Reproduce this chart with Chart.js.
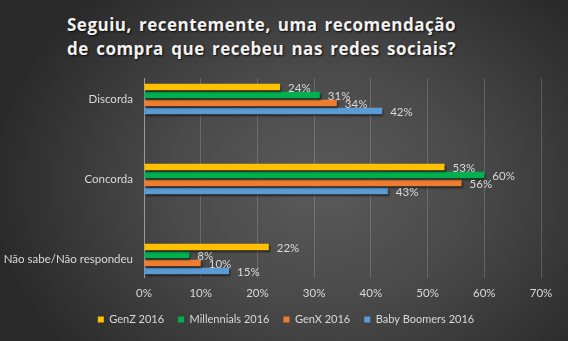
<!DOCTYPE html>
<html lang="pt">
<head>
<meta charset="UTF-8">
<title>Recomendação de compra nas redes sociais</title>
<script src="https://cdn.jsdelivr.net/npm/chart.js@4.4.1/dist/chart.umd.min.js"></script>
<style>
html, body { margin: 0; padding: 0; }
body { width: 568px; height: 341px; overflow: hidden; background: #2a2a2a; }
#quadro {
    position: relative; width: 568px; height: 341px;
    background: radial-gradient(ellipse 330px 260px at 320px 185px, #5a5a5a 0%, #4a4a4a 45%, #2a2a2a 100%);
}
#titulo {
    position: absolute; left: 67px; top: 13px; width: 389px;
    font: bold 17px 'Open Sans', sans-serif; line-height: 23.5px; letter-spacing: 0.5px;
    color: #f2f2f2; text-align: justify; text-align-last: justify;
    text-shadow: 1px 1px 2px rgba(0, 0, 0, 0.85);
}
#titulo span { display: block; white-space: nowrap; }
canvas { position: absolute; left: 0; top: 0; }
</style>
</head>
<body>
<div id="quadro">
    <div id="titulo"><span>Seguiu, recentemente, uma recomendação</span><span>de compra que recebeu nas redes sociais?</span></div>
    <canvas id="grafico" width="568" height="341"></canvas>
</div>
<script>
const categorias = ['Discorda', 'Concorda', 'Não sabe/Não respondeu'];
const series = ['GenZ 2016', 'Millennials 2016', 'GenX 2016', 'Baby Boomers 2016'];
const genZ = [24, 53, 22];
const millennials = [31, 60, 8];
const genX = [34, 56, 10];
const babyBoomers = [42, 43, 15];
const cores = ['#FFC000', '#00B050', '#ED7D31', '#5B9BD5'];
const ticksX = [0, 10, 20, 30, 40, 50, 60, 70];

const valores = [genZ, millennials, genX, babyBoomers];
const fonte = { family: 'Lato, sans-serif', size: 11.5 };
const corTexto = '#d9d9d9';

// sombra nas barras + rótulos de valor
const rotulos = {
    id: 'rotulos',
    beforeDatasetsDraw(chart) {
        const c = chart.ctx;
        c.save();
        c.shadowColor = 'rgba(0, 0, 0, 0.6)';
        c.shadowOffsetX = 1;
        c.shadowOffsetY = 2;
        c.shadowBlur = 2;
    },
    afterDatasetsDraw(chart) {
        const c = chart.ctx;
        c.restore();
        c.save();
        c.font = '11.5px Lato, sans-serif';
        c.fillStyle = corTexto;
        c.textBaseline = 'middle';
        chart.data.datasets.forEach((ds, i) => {
            chart.getDatasetMeta(i).data.forEach((barra, j) => {
                c.fillText(ds.data[j].x + '%', barra.x + 8, barra.y + 1);
            });
        });
        c.restore();
    }
};

new Chart(document.getElementById('grafico'), {
    type: 'bar',
    data: {
        datasets: series.map((nome, i) => ({
            label: nome,
            data: valores[i].map((v, j) => ({ x: v, y: j })),
            backgroundColor: cores[i],
            borderWidth: 0,
            categoryPercentage: 0.4,
            barPercentage: 0.8
        }))
    },
    options: {
        indexAxis: 'y',
        responsive: false,
        animation: false,
        layout: { padding: { top: 78, right: 0, bottom: 6, left: 4 } },
        scales: {
            x: {
                type: 'linear',
                min: 0,
                max: 70,
                afterBuildTicks: (s) => { s.ticks = ticksX.map(v => ({ value: v })); },
                afterFit: (s) => { s.height = 22; },
                ticks: { color: corTexto, font: fonte, padding: 8, callback: v => v + '%' },
                grid: {
                    drawTicks: false,
                    color: (ctx) => ctx.tick && ctx.tick.value === 0 ? '#9a9a9a' : 'rgba(255, 255, 255, 0.17)'
                },
                border: { display: false }
            },
            y: {
                // eixo linear para deixar a margem do Excel acima e abaixo dos grupos
                type: 'linear',
                reverse: true,
                offset: false,
                min: -0.2625,
                max: 2.2375,
                afterBuildTicks: (s) => { s.ticks = categorias.map((_, i) => ({ value: i })); },
                afterFit: (s) => { s.width = 140; },
                ticks: { color: corTexto, font: fonte, padding: 11, callback: v => categorias[v] },
                grid: { display: false, drawTicks: false, offset: false },
                border: { display: false }
            },
            // só reserva a margem direita
            margem: {
                type: 'linear',
                position: 'right',
                afterFit: (s) => { s.width = 27; },
                ticks: { display: false },
                grid: { display: false, drawTicks: false },
                border: { display: false }
            }
        },
        plugins: {
            legend: {
                position: 'bottom',
                labels: { color: corTexto, font: { family: 'Lato, sans-serif', size: 11 }, boxWidth: 6, boxHeight: 6, padding: 14 }
            },
            tooltip: { enabled: false }
        }
    },
    plugins: [rotulos]
});
</script>
</body>
</html>
